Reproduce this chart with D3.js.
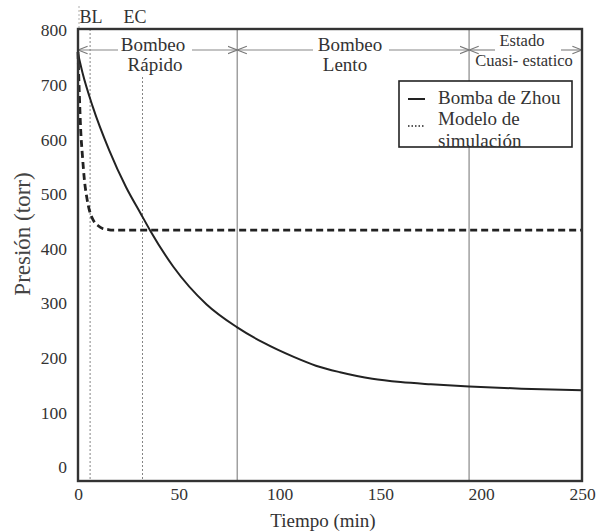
<!DOCTYPE html>
<html><head><meta charset="utf-8">
<script src="https://cdn.jsdelivr.net/npm/d3@7"></script>
<style>body{margin:0;background:#fff}svg{display:block}</style>
</head><body>
<svg id="c" width="605" height="532" font-family="Liberation Serif"></svg>
<script>
const zhouTime  = [0,2.3,7.3,15.5,23.8,31,35.7,47.3,63.8,78.6,92,107,118,130,146,160,175,194,220,250];
const zhouValue = [757,721,660,580,513,465,434,367,298,257,228,202,186,174,162,156,152,148,144,141];
const simTime   = [0,0.6,1.3,2.2,3.2,4.4,5.6,6.8,8.1,10,12.2,15,17,250];
const simValue  = [760,690,620,570,525,493,471,458,449,442,437,435,434,434];
const xTicks = [0,50,100,150,200,250];
const yTicks = [0,100,200,300,400,500,600,700,800];
const phaseBounds = [0,79,194,250];
const markerLines = [{label:"BL",t:6},{label:"EC",t:32}];
const legendLabels = ["Bomba de Zhou","Modelo de","simulación"];

const svg = d3.select("#c");
const x = d3.scaleLinear().domain([0,250]).range([78,582]);
const y = d3.scaleLinear().domain([-25,802]).range([481,29]);

// vertical phase lines
svg.selectAll(".ph").data(phaseBounds.slice(1,3)).enter().append("line")
  .attr("x1",d=>x(d)).attr("x2",d=>x(d)).attr("y1",y(802)).attr("y2",y(-25))
  .attr("stroke","#a0a0a0").attr("stroke-width",1.5);

// BL / EC dotted lines
svg.append("line").attr("x1",x(markerLines[0].t)).attr("x2",x(markerLines[0].t)).attr("y1",y(802)).attr("y2",y(-25))
  .attr("stroke","#666").attr("stroke-width",0.8).attr("stroke-dasharray","2,2");
svg.append("line").attr("x1",x(markerLines[1].t)).attr("x2",x(markerLines[1].t)).attr("y1",77).attr("y2",y(-25))
  .attr("stroke","#666").attr("stroke-width",0.8).attr("stroke-dasharray","2,2");
svg.append("line").attr("x1",x(0)+1).attr("x2",x(0)+1).attr("y1",6).attr("y2",28)
  .attr("stroke","#999").attr("stroke-width",0.8).attr("stroke-dasharray","2,2");
svg.selectAll(".ml").data(markerLines).enter().append("text")
  .attr("x",(d,i)=>i===0?91:135).attr("y",23).attr("text-anchor","middle")
  .attr("font-size",18).text(d=>d.label);

// phase arrows
const defs = svg.append("defs");
defs.append("marker").attr("id","ah").attr("viewBox","0 0 10 10").attr("refX",10).attr("refY",5)
  .attr("markerWidth",8).attr("markerHeight",8).attr("orient","auto-start-reverse")
  .append("path").attr("d","M0,1 L10,5 L0,9").attr("fill","none").attr("stroke","#777").attr("stroke-width",1.2);
const ay = 50;
function arrowSeg(a,b,start,end){
  const l = svg.append("line").attr("x1",a).attr("x2",b).attr("y1",ay).attr("y2",ay)
    .attr("stroke","#888").attr("stroke-width",1.2);
  if(start) l.attr("marker-start","url(#ah)");
  if(end) l.attr("marker-end","url(#ah)");
}
arrowSeg(x(0),118,true,false); arrowSeg(192,x(79),false,true);
arrowSeg(x(79),313,true,false); arrowSeg(389,x(194),false,true);
arrowSeg(x(194),495,true,false); arrowSeg(561,x(250),false,true);

const ptxt = [
  {t:"Bombeo",x:153,y:51,s:19},{t:"Rápido",x:155,y:71,s:19},
  {t:"Bombeo",x:350,y:51,s:19},{t:"Lento",x:345,y:71,s:19},
  {t:"Estado",x:522,y:46,s:16.5},{t:"Cuasi- estatico",x:524,y:66,s:16.5}];
svg.selectAll(".pt").data(ptxt).enter().append("text")
  .attr("x",d=>d.x).attr("y",d=>d.y).attr("text-anchor","middle").attr("font-size",d=>d.s).text(d=>d.t);

// curves
const line = d3.line().x(d=>x(d[0])).y(d=>y(d[1])).curve(d3.curveMonotoneX);
svg.append("path").datum(simTime.map((t,i)=>[t,simValue[i]])).attr("d",line)
  .attr("fill","none").attr("stroke","#222").attr("stroke-width",2.8).attr("stroke-dasharray","7,4");
svg.append("path").datum(zhouTime.map((t,i)=>[t,zhouValue[i]])).attr("d",line)
  .attr("fill","none").attr("stroke","#222").attr("stroke-width",2);

// frame
svg.append("rect").attr("x",x(0)).attr("y",y(802)).attr("width",x(250)-x(0)).attr("height",y(-25)-y(802))
  .attr("fill","none").attr("stroke","#333").attr("stroke-width",2.4);

// axes
const yAxis = svg.append("g").attr("transform",`translate(${x(0)},0)`)
  .call(d3.axisLeft(y).tickValues(yTicks).tickSize(0).tickPadding(11));
yAxis.select(".domain").remove();
yAxis.selectAll("text").attr("font-size",17.5);
const xAxis = svg.append("g").attr("transform",`translate(0,${y(-25)})`)
  .call(d3.axisBottom(x).tickValues(xTicks).tickSize(0).tickPadding(7));
xAxis.select(".domain").remove();
xAxis.selectAll("text").attr("font-size",17.5);

svg.append("text").attr("x",323).attr("y",527).attr("text-anchor","middle").attr("font-size",19).text("Tiempo (min)");
svg.append("text").attr("transform","translate(30,234) rotate(-90)").attr("text-anchor","middle")
  .attr("font-size",23).attr("fill","#444").text("Presión (torr)");

// legend
const lg = svg.append("g");
lg.append("rect").attr("x",399).attr("y",81).attr("width",173).attr("height",66)
  .attr("fill","#fff").attr("stroke","#222").attr("stroke-width",1.6);
lg.append("line").attr("x1",408).attr("x2",425).attr("y1",99).attr("y2",99).attr("stroke","#222").attr("stroke-width",2);
lg.append("line").attr("x1",408).attr("x2",425).attr("y1",126).attr("y2",126).attr("stroke","#222").attr("stroke-width",1.5).attr("stroke-dasharray","1.5,2");
lg.selectAll(".lt").data(legendLabels).enter().append("text")
  .attr("x",438).attr("y",(d,i)=>[104,125,147][i]).attr("font-size",19).text(d=>d);

svg.selectAll("g").attr("font-family",null);
svg.selectAll("text").attr("font-family","Liberation Serif").attr("fill",function(){return this.getAttribute("fill")==="#444"?"#444":"#333";});
</script>
</body></html>
